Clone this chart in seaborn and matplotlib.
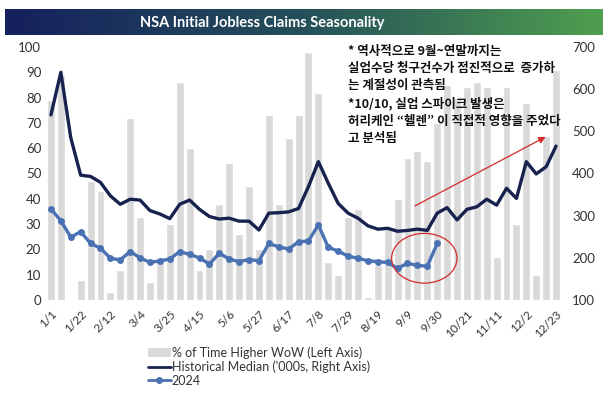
import numpy as np
import matplotlib
matplotlib.use('Agg')
import matplotlib.pyplot as plt
from matplotlib.colors import LinearSegmentedColormap
from matplotlib.patches import Ellipse, Patch
from matplotlib.lines import Line2D
import pandas as pd
import seaborn as sns

# Week-by-week data (52 weeks, every 3rd week labelled)
tick_labels = ['1/1', '1/22', '2/12', '3/4', '3/25', '4/15', '5/6', '5/27', '6/17',
               '7/8', '7/29', '8/19', '9/9', '9/30', '10/21', '11/11', '12/2', '12/23']

# % of time higher WoW (left axis)
pct_higher = [79, 89, 0, 8, 47, 43, 3, 12, 72, 33, 7, 16, 30, 86, 60, 12,
              20, 38, 54, 26, 45, 20, 73, 38, 64, 73, 98, 82, 15, 10, 33, 36,
              1, 14, 29, 40, 56, 59, 55, 70, 85, 80, 84, 86, 84, 17, 84, 30,
              78, 10, 65, 91]

# historical median ('000s, right axis)
hist_median = [539, 640, 485, 396, 393, 379, 347, 327, 339, 337, 312, 304,
               293, 327, 337, 315, 298, 292, 294, 287, 287, 266, 306, 307,
               309, 317, 369, 428, 377, 329, 306, 294, 276, 268, 270, 263,
               265, 268, 265, 306, 319, 290, 315, 321, 339, 325, 365, 341,
               428, 399, 416, 465]

# 2024 ('000s, right axis) - through 9/30
claims_2024 = [316, 288, 249, 262, 234, 223, 199, 195, 215, 200, 189, 193,
               197, 215, 208, 200, 185, 211, 197, 191, 196, 193, 234, 226,
               221, 238, 240, 278, 225, 216, 204, 199, 193, 191, 189, 175,
               187, 182, 180, 234]

weeks = np.arange(len(pct_higher))
bars_df = pd.DataFrame({'week': weeks, 'pct': pct_higher})
median_df = pd.DataFrame({'week': weeks, 'median': hist_median})
y24_df = pd.DataFrame({'week': weeks[:len(claims_2024)], 'claims': claims_2024})

sns.set_style('white')
plt.rcParams['font.family'] = ['Lato', 'DejaVu Sans']

bar_color = '#d9d9d9'
navy = '#17224f'
blue = '#4a72b2'
red = '#d42a2a'

fig = plt.figure(figsize=(6.08, 3.93), dpi=100)
ax = fig.add_axes([46 / 608, 1 - 300 / 393, 515 / 608, 253 / 393])

sns.barplot(data=bars_df, x='week', y='pct', color=bar_color, width=0.8,
            saturation=1, ax=ax)
ax.set_ylim(0, 100)
ax.set_yticks(range(0, 101, 10))
ax.set_xlim(-0.5, len(weeks) - 0.5)
ax.set_xticks(weeks[::3])
ax.set_xticklabels(tick_labels, rotation=45, ha='right', rotation_mode='anchor',
                   fontsize=8.5, color='#333333')
ax.tick_params(axis='y', labelsize=9.5, colors='#333333', length=0)
ax.tick_params(axis='x', length=0, pad=6)
ax.set_xlabel('')
ax.set_ylabel('')

ax2 = ax.twinx()
sns.lineplot(data=median_df, x='week', y='median', color=navy, linewidth=2.4,
             ax=ax2)
sns.lineplot(data=y24_df, x='week', y='claims', color=blue, linewidth=2.4,
             marker='o', markersize=5, markeredgewidth=0, ax=ax2)
ax2.set_ylim(100, 700)
ax2.set_yticks(range(100, 701, 100))
ax2.tick_params(axis='y', labelsize=9.5, colors='#333333', length=0, pad=8)
ax2.set_xlabel('')
ax2.set_ylabel('')

for a in (ax, ax2):
    for s in a.spines.values():
        s.set_visible(False)

# red circle around the latest 2024 points and the trend arrow
ax2.add_patch(Ellipse((37.7, 199), 6.6, 118, fill=False, edgecolor=red,
                      linewidth=0.9, zorder=5))
ax2.annotate('', xy=(50.2, 490), xytext=(36.5, 320),
             arrowprops=dict(arrowstyle='-|>', color=red, lw=0.9,
                             mutation_scale=10), zorder=6)

note = ('* 역사적으로 9월~연말까지는\n'
        '실업수당 청구건수가 점진적으로  증가하\n'
        '는 계절성이 관측됨\n'
        '*10/10, 실업 스파이크 발생은\n'
        '허리케인 “헬렌” 이 직접적 영향을 주었다\n'
        '고 분석됨')
fig.text(348 / 608, 1 - 45 / 393, note, ha='left', va='top', fontsize=9,
         fontweight='bold', linespacing=1.42,
         family=['Noto Sans CJK KR', 'DejaVu Sans'], color='#111111')

# title banner with navy-to-green gradient
tax = fig.add_axes([5 / 608, 1 - 35 / 393, 598 / 608, 26 / 393])
cmap = LinearSegmentedColormap.from_list('banner', ['#15205e', '#25505a', '#4f9f4f'])
tax.imshow(np.linspace(0, 1, 256).reshape(1, -1), aspect='auto', cmap=cmap,
           extent=(0, 1, 0, 1))
tax.set_axis_off()
tax.text(0.43, 0.48, 'NSA Initial Jobless Claims Seasonality', color='white',
         fontsize=10.5, fontweight='bold', ha='center', va='center',
         transform=tax.transAxes)

handles = [Patch(facecolor=bar_color, edgecolor='none'),
           Line2D([], [], color=navy, linewidth=2),
           Line2D([], [], color=blue, linewidth=2, marker='o', markersize=4)]
labels = ["% of Time Higher WoW (Left Axis)",
          "Historical Median ('000s, Right Axis)",
          '2024']
fig.legend(handles, labels, loc='upper left', bbox_to_anchor=(143 / 608, 1 - 341 / 393),
           frameon=False, fontsize=9, handlelength=1.8, handletextpad=0.1,
           labelspacing=0.15, borderaxespad=0, labelcolor='#333333')

fig.savefig('out.png', dpi=100)
